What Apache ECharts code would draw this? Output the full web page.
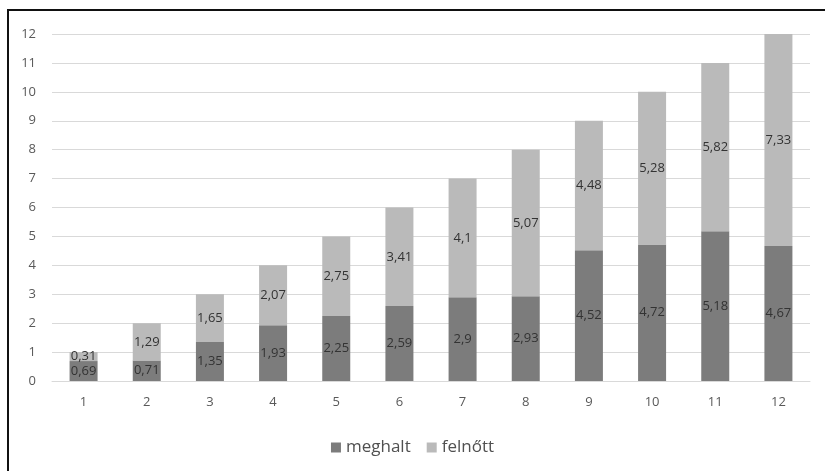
<!DOCTYPE html>
<html>
<head>
<meta charset="utf-8">
<script src="https://cdn.jsdelivr.net/npm/echarts@6/dist/echarts.min.js"></script>
<style>
html,body{margin:0;padding:0;background:#fff;}
#chart{width:825px;height:471px;}
#frame{position:absolute;left:7px;top:9px;width:900px;height:600px;border-left:2px solid #111;border-top:2px solid #111;pointer-events:none;}
</style>
</head>
<body>
<div id="chart"></div>
<div id="frame"></div>
<script>
const categories = ['1','2','3','4','5','6','7','8','9','10','11','12'];
const meghalt = [0.69,0.71,1.35,1.93,2.25,2.59,2.9,2.93,4.52,4.72,5.18,4.67];
const felnott = [0.31,1.29,1.65,2.07,2.75,3.41,4.1,5.07,4.48,5.28,5.82,7.33];
const seriesNames = ['meghalt','felnőtt'];

const fmt = p => String(p.value).replace('.', ',');
const font = '"Open Sans", "Noto Sans", sans-serif';
const chart = echarts.init(document.getElementById('chart'));
chart.setOption({
  animation:false,
  textStyle:{fontFamily:font},
  grid:{left:52,right:15,top:34,bottom:90},
  legend:{
    top:434,left:'center',itemWidth:10,itemHeight:10,itemGap:16,icon:'rect',
    textStyle:{color:'#505050',fontSize:17,fontFamily:font},
    data:seriesNames
  },
  xAxis:{
    type:'category',data:categories,
    axisLine:{lineStyle:{color:'#d9d9d9'}},
    axisTick:{show:false},
    axisLabel:{color:'#595959',fontSize:13,margin:15}
  },
  yAxis:{
    type:'value',min:0,max:12,interval:1,
    axisLine:{show:false},axisTick:{show:false},
    splitLine:{lineStyle:{color:'#d9d9d9'}},
    axisLabel:{color:'#595959',fontSize:13,margin:16}
  },
  series:[
    {name:seriesNames[0],type:'bar',stack:'s',data:meghalt,barWidth:28,
     itemStyle:{color:'#7c7c7c'},
     label:{show:true,position:'inside',formatter:fmt,color:'#333',fontSize:13,fontFamily:font}},
    {name:seriesNames[1],type:'bar',stack:'s',data:felnott,barWidth:28,
     itemStyle:{color:'#bababa'},
     label:{show:true,position:'inside',formatter:fmt,color:'#333',fontSize:13,fontFamily:font}}
  ]
});
</script>
</body>
</html>
